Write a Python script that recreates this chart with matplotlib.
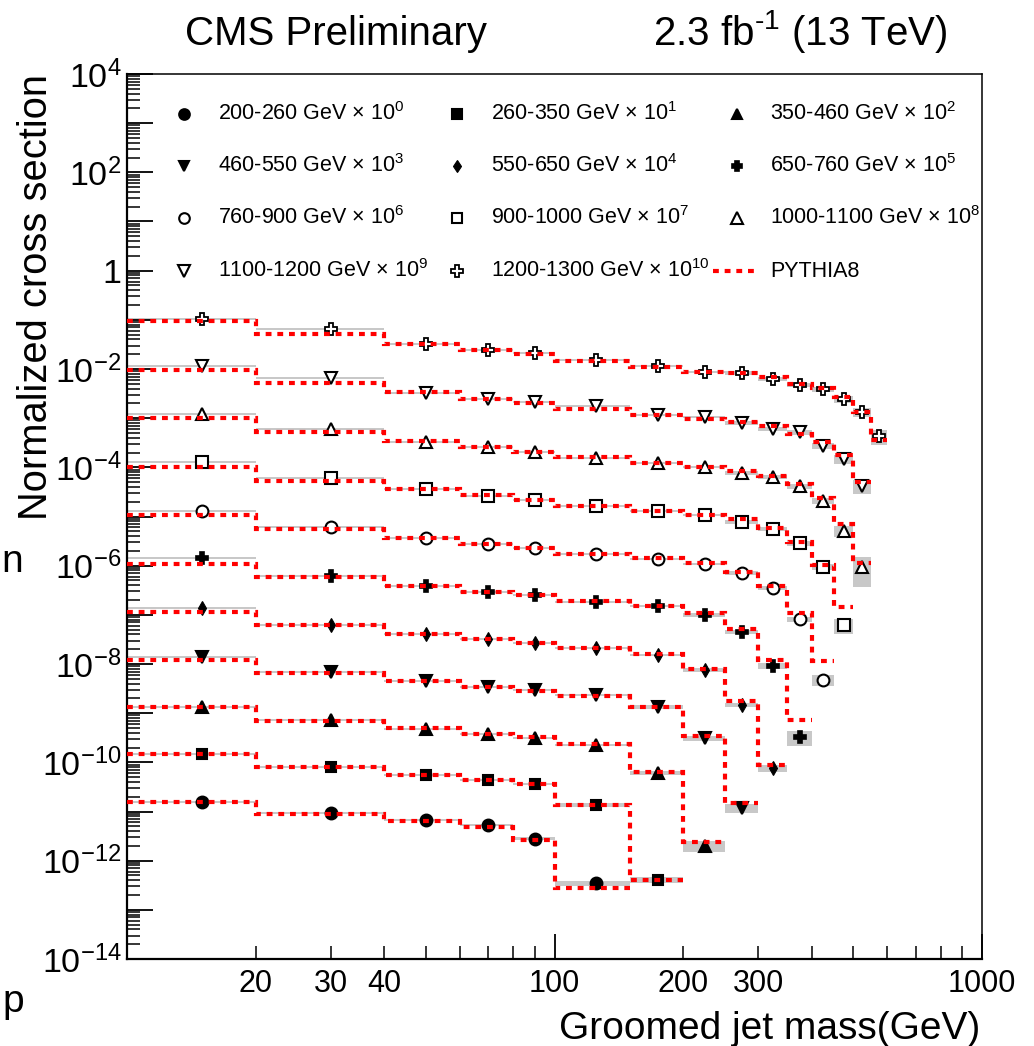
import numpy as np
import matplotlib
matplotlib.use('Agg')
import matplotlib.pyplot as plt
from matplotlib.ticker import FixedLocator, FixedFormatter

plt.rcParams['font.family'] = ['Liberation Sans', 'DejaVu Sans']
plt.rcParams['mathtext.fontset'] = 'custom'
plt.rcParams['mathtext.rm'] = 'Liberation Sans'
plt.rcParams['mathtext.it'] = 'Liberation Sans:italic'
plt.rcParams['mathtext.bf'] = 'Liberation Sans:bold'
plt.rcParams['mathtext.sf'] = 'Liberation Sans'

# groomed jet mass bin edges (GeV)
edges = [10, 20, 40, 60, 80, 100, 150, 200, 250, 300, 350, 400, 450, 500, 550, 600]

# pT bins and scale exponents used in the plot
pt_bins = ['200-260', '260-350', '350-460', '460-550', '550-650', '650-760',
           '760-900', '900-1000', '1000-1100', '1100-1200', '1200-1300']
scale_exp = [0, 1, 2, 3, 4, 5, 6, 7, 8, 9, 10]

# Data (already multiplied by the scale factor)
data_200_260 = [1.56e-11, 9.3e-12, 6.7e-12, 5.3e-12, 2.8e-12, 3.5e-13]
data_260_350 = [1.48e-10, 8.05e-11, 5.54e-11, 4.38e-11, 3.63e-11, 1.36e-11, 4.06e-13]
data_350_460 = [1.34e-9, 7.27e-10, 4.77e-10, 3.78e-10, 3.13e-10, 2.26e-10, 6.08e-11, 1.99e-12]
data_460_550 = [1.39e-8, 6.89e-9, 4.52e-9, 3.41e-9, 2.96e-9, 2.35e-9, 1.34e-9, 3.13e-10, 1.18e-11]
data_550_650 = [1.38e-7, 6.22e-8, 4.08e-8, 3.23e-8, 2.68e-8, 2.12e-8, 1.53e-8, 7.57e-9, 1.47e-9, 7.69e-11]
data_650_760 = [1.44e-6, 6.17e-7, 3.86e-7, 2.92e-7, 2.53e-7, 1.83e-7, 1.51e-7, 9.93e-8, 4.48e-8,
                9.12e-9, 3.28e-10]
data_760_900 = [1.29e-5, 6.12e-6, 3.66e-6, 2.76e-6, 2.29e-6, 1.73e-6, 1.37e-6, 1.08e-6, 7.10e-7,
                3.52e-7, 8.24e-8, 4.73e-9]
data_900_1000 = [1.29e-4, 6.08e-5, 3.63e-5, 2.62e-5, 2.17e-5, 1.64e-5, 1.29e-5, 1.07e-5, 7.74e-6,
                 5.57e-6, 2.90e-6, 9.40e-7, 6.22e-8]
data_1000_1100 = [1.22e-3, 6.03e-4, 3.28e-4, 2.60e-4, 2.05e-4, 1.55e-4, 1.23e-4, 1.02e-4, 7.67e-5,
                  6.37e-5, 4.18e-5, 2.07e-5, 5.08e-6, 9.40e-7]
data_1100_1200 = [1.15e-2, 6.56e-3, 3.25e-3, 2.45e-3, 2.13e-3, 1.77e-3, 1.16e-3, 1.06e-3, 7.98e-4,
                  6.03e-4, 5.24e-4, 2.72e-4, 1.48e-4, 4.18e-5]
data_1200_1300 = [0.104, 6.51e-2, 3.23e-2, 2.44e-2, 2.12e-2, 1.52e-2, 1.15e-2, 8.69e-3, 8.29e-3,
                  6.26e-3, 4.73e-3, 3.93e-3, 2.45e-3, 1.34e-3, 4.35e-4]

# PYTHIA8 prediction (same scaling)
py_200_260 = [1.56e-11, 8.9e-12, 6.4e-12, 4.85e-12, 2.64e-12, 2.8e-13]
py_260_350 = [1.48e-10, 8.05e-11, 5.54e-11, 4.38e-11, 3.63e-11, 1.36e-11, 4.06e-13]
py_350_460 = [1.34e-9, 6.95e-10, 5.0e-10, 3.78e-10, 3.28e-10, 2.36e-10, 6.37e-11, 2.40e-12]
py_460_550 = [1.21e-8, 6.58e-9, 4.52e-9, 3.41e-9, 2.83e-9, 2.24e-9, 1.34e-9, 3.44e-10, 1.49e-11]
py_550_650 = [1.14e-7, 6.22e-8, 4.08e-8, 3.23e-8, 2.68e-8, 2.12e-8, 1.60e-8, 7.93e-9, 1.77e-9, 8.85e-11]
py_650_760 = [1.08e-6, 5.89e-7, 3.86e-7, 2.92e-7, 2.53e-7, 1.91e-7, 1.51e-7, 1.09e-7, 5.15e-8,
              1.21e-8, 7.28e-10]
py_760_900 = [1.07e-5, 5.57e-6, 3.66e-6, 2.76e-6, 2.29e-6, 1.73e-6, 1.44e-6, 1.14e-6, 7.44e-7,
              3.86e-7, 1.09e-7, 1.15e-8]
py_900_1000 = [1.02e-4, 5.29e-5, 3.63e-5, 2.74e-5, 2.17e-5, 1.64e-5, 1.29e-5, 1.07e-5, 8.9e-6,
               5.84e-6, 3.03e-6, 1.03e-6, 1.44e-7]
py_1000_1100 = [1.01e-3, 5.24e-4, 3.44e-4, 2.60e-4, 2.05e-4, 1.62e-4, 1.23e-4, 1.02e-4, 8.43e-5,
                6.67e-5, 4.59e-5, 2.38e-5, 7.05e-6, 1.13e-6]
py_1100_1200 = [9.55e-3, 5.20e-3, 3.41e-3, 2.45e-3, 2.04e-3, 1.54e-3, 1.16e-3, 9.62e-4, 8.37e-4,
                6.94e-4, 4.77e-4, 3.28e-4, 1.78e-4, 5.03e-5]
py_1200_1300 = [9.48e-2, 5.15e-2, 3.23e-2, 2.44e-2, 2.02e-2, 1.46e-2, 1.10e-2, 8.69e-3, 8.29e-3,
                6.89e-3, 4.95e-3, 4.11e-3, 2.70e-3, 1.34e-3, 3.60e-4]

# relative uncertainty (grey band)
unc_200_260 = [0.06, 0.06, 0.06, 0.06, 0.06, 0.12]
unc_260_350 = [0.06, 0.06, 0.06, 0.06, 0.06, 0.08, 0.12]
unc_350_460 = [0.06, 0.06, 0.06, 0.06, 0.06, 0.06, 0.1, 0.25]
unc_460_550 = [0.06, 0.06, 0.06, 0.06, 0.06, 0.06, 0.08, 0.12, 0.22]
unc_550_650 = [0.06, 0.06, 0.06, 0.06, 0.06, 0.06, 0.06, 0.1, 0.1, 0.16]
unc_650_760 = [0.06, 0.06, 0.06, 0.06, 0.06, 0.06, 0.06, 0.08, 0.1, 0.15, 0.35]
unc_760_900 = [0.06, 0.06, 0.06, 0.06, 0.06, 0.06, 0.06, 0.06, 0.08, 0.1, 0.12, 0.25]
unc_900_1000 = [0.06, 0.06, 0.06, 0.06, 0.06, 0.06, 0.06, 0.06, 0.08, 0.1, 0.12, 0.15, 0.35]
unc_1000_1100 = [0.06, 0.06, 0.06, 0.06, 0.06, 0.06, 0.06, 0.06, 0.08, 0.1, 0.12, 0.15, 0.25, 0.6]
unc_1100_1200 = [0.06, 0.06, 0.06, 0.06, 0.06, 0.06, 0.06, 0.06, 0.08, 0.1, 0.12, 0.15, 0.2, 0.3]
unc_1200_1300 = [0.06, 0.06, 0.06, 0.06, 0.06, 0.06, 0.06, 0.06, 0.08, 0.1, 0.1, 0.12, 0.15, 0.2, 0.35]

all_data = [data_200_260, data_260_350, data_350_460, data_460_550, data_550_650, data_650_760,
            data_760_900, data_900_1000, data_1000_1100, data_1100_1200, data_1200_1300]
all_py = [py_200_260, py_260_350, py_350_460, py_460_550, py_550_650, py_650_760,
          py_760_900, py_900_1000, py_1000_1100, py_1100_1200, py_1200_1300]
all_unc = [unc_200_260, unc_260_350, unc_350_460, unc_460_550, unc_550_650, unc_650_760,
           unc_760_900, unc_900_1000, unc_1000_1100, unc_1100_1200, unc_1200_1300]

# ROOT-like marker styles
markers = [
    dict(marker='o', mfc='black', ms=8.5, mew=1.5),
    dict(marker='s', mfc='black', ms=7.5, mew=1.5),
    dict(marker='^', mfc='black', ms=8.5, mew=1.5),
    dict(marker='v', mfc='black', ms=8.5, mew=1.5),
    dict(marker='d', mfc='black', ms=7.0, mew=0.8),
    dict(marker='P', mfc='black', ms=8.0, mew=1.2),
    dict(marker='o', mfc='white', ms=8.5, mew=1.5),
    dict(marker='s', mfc='white', ms=8.0, mew=1.5),
    dict(marker='^', mfc='white', ms=9.0, mew=1.5),
    dict(marker='v', mfc='white', ms=9.0, mew=1.5),
    dict(marker='P', mfc='white', ms=9.0, mew=1.3),
]

edges = np.array(edges, dtype=float)
centers = 0.5 * (edges[:-1] + edges[1:])

fig = plt.figure(figsize=(10.34, 10.46), dpi=100)
ax = fig.add_axes([127 / 1034, 1 - 959 / 1046, 855 / 1034, 885 / 1046])
ax.set_xscale('log')
ax.set_yscale('log')
ax.set_xlim(10, 1000)
ax.set_ylim(1e-14, 1e4)

red_dash = (0, (1.4, 1.4))

for vals, pyth, unc, mk in zip(all_data, all_py, all_unc, markers):
    vals = np.array(vals)
    unc = np.array(unc)
    n = len(vals)
    e = edges[:n + 1]
    lo = vals * (1 - unc)
    hi = vals * (1 + unc)
    ax.bar(e[:-1], hi - lo, width=np.diff(e), bottom=lo, align='edge',
           color='#c8c8c8', lw=0, zorder=1)
    ax.plot(centers[:n], vals, ls='none', mec='black', zorder=3, **mk)
    ax.stairs(pyth, e, baseline=None, color='red', lw=3, ls=red_dash, zorder=4)

# Legend (3 columns, row-major like ROOT)
mark_x = [0.0667, 0.386, 0.713]
text_x = [0.1064, 0.4257, 0.752]
row_y = [0.9548, 0.896, 0.8373, 0.7774]
for i, (lab, sc, mk) in enumerate(zip(pt_bins, scale_exp, markers)):
    r, c = divmod(i, 3)
    lm = dict(mk)
    lm['ms'] = mk['ms'] * 0.9
    ax.plot([mark_x[c]], [row_y[r]], transform=ax.transAxes, ls='none', mec='black',
            clip_on=False, **lm)
    ax.text(text_x[c], row_y[r], lab + ' GeV $\\times$ 10$^{' + str(sc) + '}$',
            transform=ax.transAxes, va='center', ha='left', fontsize=15.5)
ax.plot([0.6854, 0.7345], [row_y[3], row_y[3]], transform=ax.transAxes, color='red',
        lw=3, ls=red_dash, clip_on=False)
ax.text(text_x[2], row_y[3], 'PYTHIA8', transform=ax.transAxes, va='center', ha='left',
        fontsize=15.5)

# Axis ticks
y_major = [10.0 ** k for k in range(-14, 5)]
y_labels = []
for k in range(-14, 5):
    if k % 2:
        y_labels.append('')
    elif k == 0:
        y_labels.append('1')
    else:
        y_labels.append('$10^{' + str(k) + '}$')
ax.yaxis.set_major_locator(FixedLocator(y_major))
ax.yaxis.set_major_formatter(FixedFormatter(y_labels))
ax.yaxis.set_minor_locator(FixedLocator([m * 10.0 ** k for k in range(-14, 4) for m in range(2, 10)]))

x_major = [100, 1000]
x_minor = [20, 30, 40, 50, 60, 70, 80, 90, 200, 300, 400, 500, 600, 700, 800, 900]
x_minor_labels = ['20', '30', '40', '', '', '', '', '', '200', '300', '', '', '', '', '', '']
ax.xaxis.set_major_locator(FixedLocator(x_major))
ax.xaxis.set_major_formatter(FixedFormatter(['100', '1000']))
ax.xaxis.set_minor_locator(FixedLocator(x_minor))
ax.xaxis.set_minor_formatter(FixedFormatter(x_minor_labels))

ax.tick_params(axis='both', which='both', direction='in', top=False, right=False)
ax.tick_params(axis='y', which='major', length=19, width=1.3, labelsize=24.5, pad=4)
ax.tick_params(axis='y', which='minor', length=9.5, width=1.1)
ax.tick_params(axis='x', which='major', length=18, width=1.3, labelsize=22, pad=7)
ax.tick_params(axis='x', which='minor', length=9.5, width=1.1, labelsize=22, pad=7)

for s in ['left', 'bottom']:
    ax.spines[s].set_linewidth(1.6)
for s in ['top', 'right']:
    ax.spines[s].set_linewidth(1.1)

# Titles and axis labels
fig.text(185 / 1034, 1 - 45 / 1046, 'CMS Preliminary', fontsize=29, ha='left', va='baseline')
fig.text(947 / 1034, 1 - 45 / 1046, '2.3 fb$^{\\text{-1}}$ (13 TeV)', fontsize=29, ha='right',
         va='baseline')
fig.text(980 / 1034, 1 - 1039 / 1046, 'Groomed jet mass(GeV)', fontsize=28, ha='right',
         va='baseline')
fig.text(47 / 1034, 1 - 74 / 1046, 'Normalized cross section', fontsize=28.7, rotation=90,
         rotation_mode='anchor', ha='right', va='baseline')

# fragments of neighbouring text at the left edge
fig.text(1 / 1034, 1 - 572 / 1046, 'n', fontsize=28, ha='left', va='baseline')
fig.text(2 / 1034, 1 - 1012 / 1046, 'p', fontsize=28, ha='left', va='baseline')

fig.savefig('out.png', dpi=100)
